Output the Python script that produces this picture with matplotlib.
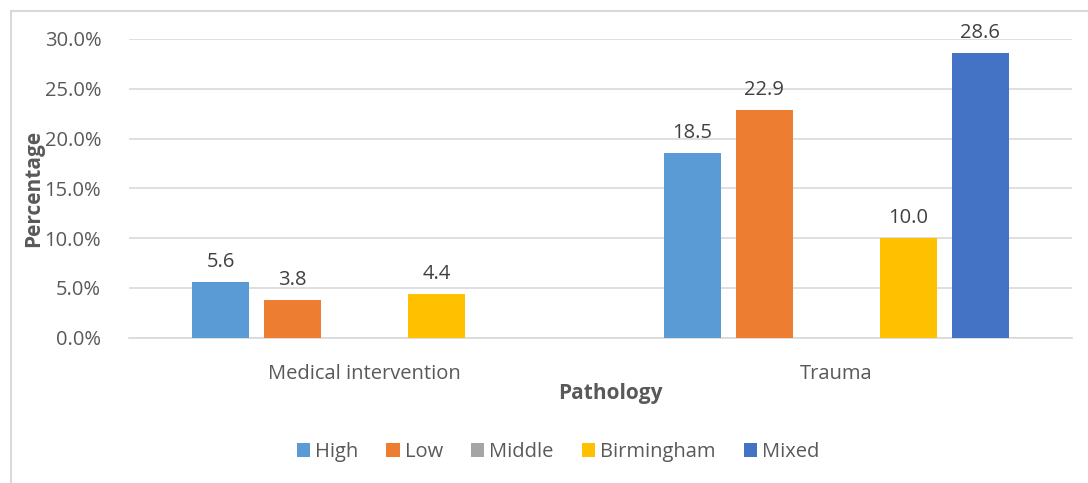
import numpy as np
import matplotlib.pyplot as plt
from matplotlib.patches import Rectangle

categories = ["Medical intervention", "Trauma"]
series = ["High", "Low", "Middle", "Birmingham", "Mixed"]
values = {
    "High": [5.6, 18.5],
    "Low": [3.8, 22.9],
    "Middle": [0.0, 0.0],
    "Birmingham": [4.4, 10.0],
    "Mixed": [0.0, 28.6],
}
colors = ["#5b9bd5", "#ed7d31", "#a5a5a5", "#ffc000", "#4472c4"]
yticks = [0, 5, 10, 15, 20, 25, 30]

plt.rcParams["font.family"] = ["Open Sans", "DejaVu Sans"]
txt = "#595959"
fs = 14.5

fig = plt.figure(figsize=(10.88, 4.83), dpi=100)
W, H = 1088, 483
ax = fig.add_axes([129 / W, 1 - 337.5 / H, (1072 - 129) / W, (337.5 - 39) / H])

# outer chart border (only left/top visible in the crop)
fig.patches.append(Rectangle((11 / W, -0.1), 1.2, (1 - 11 / H) + 0.1,
                             transform=fig.transFigure, fill=False,
                             edgecolor="#d9d9d9", linewidth=1.5))

x = np.arange(len(categories))
step = 72 / 471.5
width = 57 / 471.5
for i, (name, col) in enumerate(zip(series, colors)):
    vals = values[name]
    pos = x + (i - 2) * step
    bars = ax.bar(pos, vals, width, color=col, label=name, zorder=3)
    for b, v in zip(bars, vals):
        if v > 0:
            ax.text(b.get_x() + b.get_width() / 2, v + 1.0, f"{v:.1f}",
                    ha="center", va="bottom", fontsize=fs, color="#404040")

ax.set_xlim(-0.5, 1.5)
ax.set_ylim(0, 30)
ax.set_yticks(yticks)
ax.set_yticklabels([f"{t:.1f}%" for t in yticks], fontsize=fs, color=txt)
ax.set_xticks(x)
ax.set_xticklabels(categories, fontsize=fs, color=txt)
ax.tick_params(axis="both", length=0)
ax.tick_params(axis="y", pad=20)
ax.tick_params(axis="x", pad=19)
ax.grid(axis="y", color="#d9d9d9", linewidth=1.2, zorder=0)
for s in ["top", "right", "left"]:
    ax.spines[s].set_visible(False)
ax.spines["bottom"].set_color("#d9d9d9")
ax.spines["bottom"].set_linewidth(1.2)

fig.text(34 / W, 1 - 188 / H, "Percentage", rotation=90, ha="center",
         va="center", fontsize=15, fontweight="bold", color=txt)
fig.text(610 / W, 1 - 393 / H, "Pathology", ha="center", va="center",
         fontsize=15, fontweight="bold", color=txt)

fig.legend(loc="center", bbox_to_anchor=(558 / W, 1 - 452 / H), ncol=5,
           frameon=False, fontsize=fs, handlelength=0.65, handleheight=0.65,
           handletextpad=0.25, columnspacing=1.4, labelcolor=txt)

fig.savefig("out.png", dpi=100)
